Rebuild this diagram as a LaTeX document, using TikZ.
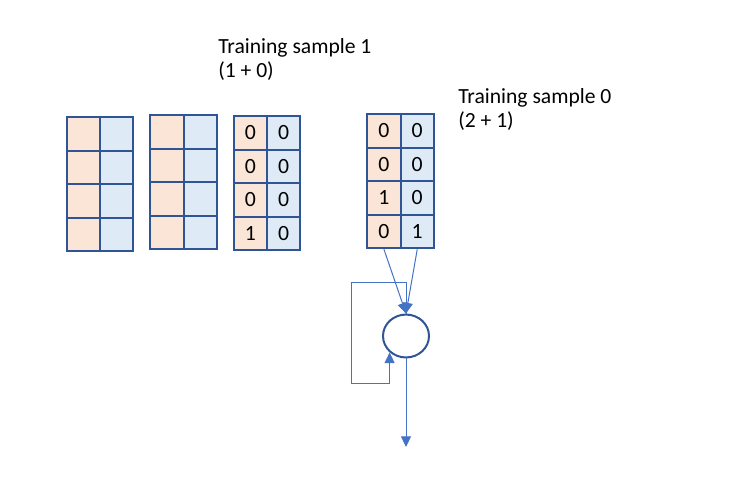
\documentclass[tikz,border=0pt]{standalone}
\usepackage{fontspec}
\setmainfont{Carlito}
\usetikzlibrary{arrows.meta, shapes.geometric}
\definecolor{cellorange}{RGB}{251,229,214}
\definecolor{cellblue}{RGB}{222,235,247}
\definecolor{gridline}{RGB}{47,85,151}
\definecolor{arrowblue}{RGB}{68,114,196}
\tikzset{
  cell/.style={
    draw=gridline,
    line width=1.5pt,
    minimum width=25pt,
    minimum height=25.2pt,
    inner sep=0pt,
    font=\fontsize{16.3}{18.4}\selectfont
  },
  incell/.style={cell, fill=cellorange},
  statecell/.style={cell, fill=cellblue},
  neuron/.style={ellipse, draw=gridline, line width=1.5pt, fill=white,
    minimum width=34.5pt, minimum height=32.2pt, inner sep=0pt},
  arrow/.style={-{Triangle[length=8pt,width=7.5pt]}, line width=0.75pt, draw=arrowblue},
  caption/.style={font=\fontsize{16.2}{18.4}\selectfont, align=left, inner sep=0pt, anchor=base west}
}
% grid of 4 rows x 2 columns: name, left, top (px), rows r/a/b
\newcommand{\samplegrid}[4]{%
  \foreach \r/\a/\b in {#4} {
    \node[incell] (#1-\r-a) at ({#2+16.65},{#3+33.6*(\r-0.5)}) {\a};
    \node[statecell] (#1-\r-b) at ({#2+49.95},{#3+33.6*(\r-0.5)}) {\b};
  }}

\begin{document}
\begin{tikzpicture}[x=0.75pt, y=-0.75pt]
  \useasboundingbox (0,0) rectangle (729,483);

  \samplegrid{s3}{66.7}{116.9}{1//,2//,3//,4//}
  \samplegrid{s2}{150.3}{114.9}{1//,2//,3//,4//}
  \samplegrid{s1}{233.7}{115.9}{1/0/0,2/0/0,3/0/0,4/1/0}
  \samplegrid{s0}{367.3}{113.9}{1/0/0,2/0/0,3/1/0,4/0/1}

  % base anchor sits on the second line
  \node[caption] (cap1) at (218,77.8) {Training sample 1\\(1 + 0)};
  \node[caption] (cap0) at (458,127.8) {Training sample 0\\(2 + 1)};

  \node[neuron] (neuron) at (406,336) {};
  \coordinate (out) at (406,447);

  \draw[arrow] (s0-4-a.south) -- (neuron.north);
  \draw[arrow] (s0-4-b.south) -- (neuron.north);
  \draw[arrow] (neuron.north) -- ++(0,-31) -- ++(-55,0) -- ++(0,101) -| (neuron.-135);
  \draw[arrow] (neuron) -- (out);
\end{tikzpicture}
\end{document}
